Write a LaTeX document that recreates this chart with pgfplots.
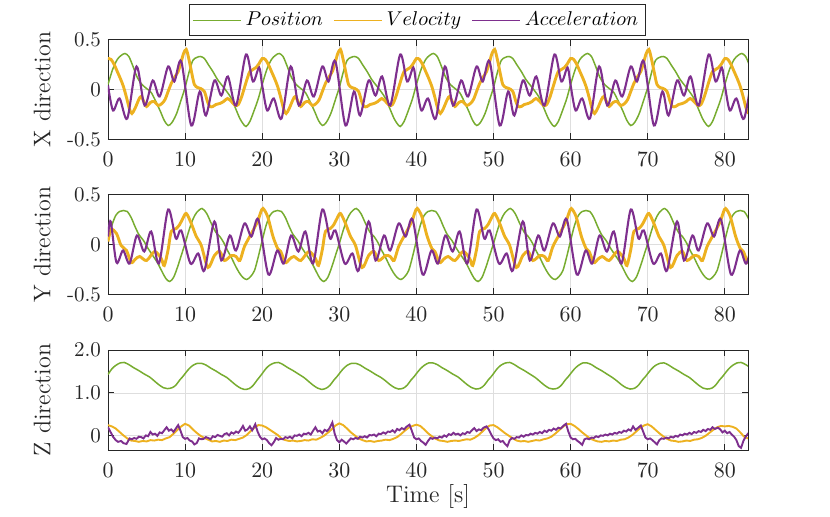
\documentclass[border=0pt]{standalone}
\usepackage{pgfplots}
\pgfplotsset{compat=1.18}
\definecolor{cpos}{RGB}{119,172,48}
\definecolor{cvel}{RGB}{237,177,32}
\definecolor{cacc}{RGB}{126,47,142}
\definecolor{axc}{RGB}{38,38,38}
\pgfplotsset{
 panel/.style={
  scale only axis, width=320pt, height=50pt,
  xmin=0, xmax=83,
  xtick={0,10,20,30,40,50,60,70,80},
  grid=major,
  major grid style={draw=black!13, line width=0.4pt},
  axis line style={draw=axc, line width=0.45pt},
  tick style={draw=axc, line width=0.45pt},
  tick align=inside, major tick length=3.2pt,
  ticklabel style={font=\fontsize{10.5}{12}\selectfont, text=axc},
  xticklabel style={yshift=-3pt},
  every axis y label/.style={at={(axis description cs:-0.103,0.5)}, rotate=90, anchor=center, font=\fontsize{12}{14}\selectfont, text=axc},
  clip=true,
 },
 ppos/.style={color=cpos, line width=0.75pt, smooth},
 pvel/.style={color=cvel, line width=1.45pt, smooth},
 pacc/.style={color=cacc, line width=1.05pt, smooth},
 zvel/.style={color=cvel, line width=0.95pt},
 zacc/.style={color=cacc, line width=0.95pt},
}
\begin{document}
\begin{tikzpicture}
\path (0,0) rectangle (415pt,258.5pt);
% ---------------- X direction ----------------
\begin{axis}[panel, at={(54pt,188.75pt)}, anchor=south west,
  ymin=-0.5, ymax=0.5, ytick={-0.5,0,0.5}, yticklabels={-0.5,0,0.5},
  ylabel={X direction},
  legend columns=3,
  legend style={at={(axis description cs:0.483,1)}, anchor=south, yshift=1.6pt,
    draw=axc, line width=0.45pt, fill=white, inner sep=1.5pt,
    font=\fontsize{10}{12}\selectfont,
    /tikz/every even column/.append style={column sep=3pt}},
  legend image code/.code={\draw[#1,line width=0.8pt] (0pt,0pt) -- (24pt,0pt);},
]
\addplot[ppos] coordinates {
(0,0.05)(0.6,0.20)(1.2,0.30)(1.7,0.34)(2.2,0.36)(2.7,0.33)(3.2,0.24)(3.8,0.12)(4.4,0.05)(5.0,0.01)(5.6,-0.03)(6.2,-0.12)(6.8,-0.22)(7.3,-0.31)(7.8,-0.36)(8.3,-0.33)(8.9,-0.24)(9.5,-0.10)(10.0,0.02)(10.5,0.17)(11.0,0.29)(11.5,0.32)(12.0,0.33)(12.5,0.31)(13.0,0.25)(13.6,0.18)(14.2,0.10)(14.8,0.04)(15.4,-0.02)(16.0,-0.09)(16.6,-0.20)(17.1,-0.29)(17.5,-0.34)(17.9,-0.37)(18.4,-0.32)(19.0,-0.20)(19.5,-0.09)
(20,0.05)(20.6,0.20)(21.2,0.30)(21.7,0.34)(22.2,0.36)(22.7,0.33)(23.2,0.24)(23.8,0.12)(24.4,0.05)(25.0,0.01)(25.6,-0.03)(26.2,-0.12)(26.8,-0.22)(27.3,-0.31)(27.8,-0.36)(28.3,-0.33)(28.9,-0.24)(29.5,-0.10)(30.0,0.02)(30.5,0.17)(31.0,0.29)(31.5,0.32)(32.0,0.33)(32.5,0.31)(33.0,0.25)(33.6,0.18)(34.2,0.10)(34.8,0.04)(35.4,-0.02)(36.0,-0.09)(36.6,-0.20)(37.1,-0.29)(37.5,-0.34)(37.9,-0.37)(38.4,-0.32)(39.0,-0.20)(39.5,-0.09)
(40,0.05)(40.6,0.20)(41.2,0.30)(41.7,0.34)(42.2,0.36)(42.7,0.33)(43.2,0.24)(43.8,0.12)(44.4,0.05)(45.0,0.01)(45.6,-0.03)(46.2,-0.12)(46.8,-0.22)(47.3,-0.31)(47.8,-0.36)(48.3,-0.33)(48.9,-0.24)(49.5,-0.10)(50.0,0.02)(50.5,0.17)(51.0,0.29)(51.5,0.32)(52.0,0.33)(52.5,0.31)(53.0,0.25)(53.6,0.18)(54.2,0.10)(54.8,0.04)(55.4,-0.02)(56.0,-0.09)(56.6,-0.20)(57.1,-0.29)(57.5,-0.34)(57.9,-0.37)(58.4,-0.32)(59.0,-0.20)(59.5,-0.09)
(60,0.05)(60.6,0.20)(61.2,0.30)(61.7,0.34)(62.2,0.36)(62.7,0.33)(63.2,0.24)(63.8,0.12)(64.4,0.05)(65.0,0.01)(65.6,-0.03)(66.2,-0.12)(66.8,-0.22)(67.3,-0.31)(67.8,-0.36)(68.3,-0.33)(68.9,-0.24)(69.5,-0.10)(70.0,0.02)(70.5,0.17)(71.0,0.29)(71.5,0.32)(72.0,0.33)(72.5,0.31)(73.0,0.25)(73.6,0.18)(74.2,0.10)(74.8,0.04)(75.4,-0.02)(76.0,-0.09)(76.6,-0.20)(77.1,-0.29)(77.5,-0.34)(77.9,-0.37)(78.4,-0.32)(79.0,-0.20)(79.5,-0.09)
(80,0.05)(80.6,0.20)(81.2,0.30)(81.7,0.34)(82.2,0.36)(82.7,0.33)(83.2,0.24)
};
\addlegendentry{$Position$}
\addplot[pvel] coordinates {
(0,0.31)(0.4,0.30)(0.8,0.25)(1.2,0.18)(1.6,0.11)(2.0,0.03)(2.4,-0.08)(2.8,-0.20)(3.1,-0.24)(3.5,-0.19)(4.0,-0.10)(4.3,-0.07)(4.7,-0.13)(5.0,-0.17)(5.5,-0.13)(6.0,-0.12)(6.5,-0.16)(7.0,-0.14)(7.4,-0.10)(7.8,-0.02)(8.2,0.06)(8.7,0.13)(9.1,0.18)(9.5,0.28)(9.8,0.36)(10.15,0.40)(10.5,0.30)(10.9,0.15)(11.2,0.05)(11.6,0.02)(12.0,0.01)(12.5,-0.02)(12.9,-0.12)(13.2,-0.17)(13.6,-0.17)(14.0,-0.15)(14.5,-0.14)(15.0,-0.12)(15.5,-0.09)(16.0,-0.12)(16.5,-0.16)(16.9,-0.15)(17.3,-0.08)(17.7,0.02)(18.1,0.12)(18.4,0.18)(18.8,0.20)(19.2,0.22)(19.6,0.26)
(20,0.31)(20.4,0.30)(20.8,0.25)(21.2,0.18)(21.6,0.11)(22.0,0.03)(22.4,-0.08)(22.8,-0.20)(23.1,-0.24)(23.5,-0.19)(24.0,-0.10)(24.3,-0.07)(24.7,-0.13)(25.0,-0.17)(25.5,-0.13)(26.0,-0.12)(26.5,-0.16)(27.0,-0.14)(27.4,-0.10)(27.8,-0.02)(28.2,0.06)(28.7,0.13)(29.1,0.18)(29.5,0.28)(29.8,0.36)(30.15,0.40)(30.5,0.30)(30.9,0.15)(31.2,0.05)(31.6,0.02)(32.0,0.01)(32.5,-0.02)(32.9,-0.12)(33.2,-0.17)(33.6,-0.17)(34.0,-0.15)(34.5,-0.14)(35.0,-0.12)(35.5,-0.09)(36.0,-0.12)(36.5,-0.16)(36.9,-0.15)(37.3,-0.08)(37.7,0.02)(38.1,0.12)(38.4,0.18)(38.8,0.20)(39.2,0.22)(39.6,0.26)
(40,0.31)(40.4,0.30)(40.8,0.25)(41.2,0.18)(41.6,0.11)(42.0,0.03)(42.4,-0.08)(42.8,-0.20)(43.1,-0.24)(43.5,-0.19)(44.0,-0.10)(44.3,-0.07)(44.7,-0.13)(45.0,-0.17)(45.5,-0.13)(46.0,-0.12)(46.5,-0.16)(47.0,-0.14)(47.4,-0.10)(47.8,-0.02)(48.2,0.06)(48.7,0.13)(49.1,0.18)(49.5,0.28)(49.8,0.36)(50.15,0.40)(50.5,0.30)(50.9,0.15)(51.2,0.05)(51.6,0.02)(52.0,0.01)(52.5,-0.02)(52.9,-0.12)(53.2,-0.17)(53.6,-0.17)(54.0,-0.15)(54.5,-0.14)(55.0,-0.12)(55.5,-0.09)(56.0,-0.12)(56.5,-0.16)(56.9,-0.15)(57.3,-0.08)(57.7,0.02)(58.1,0.12)(58.4,0.18)(58.8,0.20)(59.2,0.22)(59.6,0.26)
(60,0.31)(60.4,0.30)(60.8,0.25)(61.2,0.18)(61.6,0.11)(62.0,0.03)(62.4,-0.08)(62.8,-0.20)(63.1,-0.24)(63.5,-0.19)(64.0,-0.10)(64.3,-0.07)(64.7,-0.13)(65.0,-0.17)(65.5,-0.13)(66.0,-0.12)(66.5,-0.16)(67.0,-0.14)(67.4,-0.10)(67.8,-0.02)(68.2,0.06)(68.7,0.13)(69.1,0.18)(69.5,0.28)(69.8,0.36)(70.15,0.40)(70.5,0.30)(70.9,0.15)(71.2,0.05)(71.6,0.02)(72.0,0.01)(72.5,-0.02)(72.9,-0.12)(73.2,-0.17)(73.6,-0.17)(74.0,-0.15)(74.5,-0.14)(75.0,-0.12)(75.5,-0.09)(76.0,-0.12)(76.5,-0.16)(76.9,-0.15)(77.3,-0.08)(77.7,0.02)(78.1,0.12)(78.4,0.18)(78.8,0.20)(79.2,0.22)(79.6,0.26)
(80,0.31)(80.4,0.30)(80.8,0.25)(81.2,0.18)(81.6,0.11)(82.0,0.03)(82.4,-0.08)(82.8,-0.20)(83.1,-0.24)
};
\addlegendentry{$Velocity$}
\addplot[pacc] coordinates {
(0,0.04)(0.65,-0.21)(1.5,-0.09)(2.5,-0.29)(3.7,0.23)(4.75,-0.16)(5.8,0.09)(6.7,-0.07)(7.8,0.23)(8.6,0.08)(9.5,0.28)(10.8,-0.36)(11.9,-0.02)(12.7,-0.26)(13.8,0.09)(14.7,-0.06)(15.55,0.13)(16.6,-0.16)(17.9,0.35)(18.8,0.08)(19.6,0.22)
(20,0.04)(20.65,-0.21)(21.5,-0.09)(22.5,-0.29)(23.7,0.23)(24.75,-0.16)(25.8,0.09)(26.7,-0.07)(27.8,0.23)(28.6,0.08)(29.5,0.28)(30.8,-0.36)(31.9,-0.02)(32.7,-0.26)(33.8,0.09)(34.7,-0.06)(35.55,0.13)(36.6,-0.16)(37.9,0.35)(38.8,0.08)(39.6,0.22)
(40,0.04)(40.65,-0.21)(41.5,-0.09)(42.5,-0.29)(43.7,0.23)(44.75,-0.16)(45.8,0.09)(46.7,-0.07)(47.8,0.23)(48.6,0.08)(49.5,0.28)(50.8,-0.36)(51.9,-0.02)(52.7,-0.26)(53.8,0.09)(54.7,-0.06)(55.55,0.13)(56.6,-0.16)(57.9,0.35)(58.8,0.08)(59.6,0.22)
(60,0.04)(60.65,-0.21)(61.5,-0.09)(62.5,-0.29)(63.7,0.23)(64.75,-0.16)(65.8,0.09)(66.7,-0.07)(67.8,0.23)(68.6,0.08)(69.5,0.28)(70.8,-0.36)(71.9,-0.02)(72.7,-0.26)(73.8,0.09)(74.7,-0.06)(75.55,0.13)(76.6,-0.16)(77.9,0.35)(78.8,0.08)(79.6,0.22)
(80,0.04)(80.65,-0.21)(81.5,-0.09)(82.5,-0.29)(83.7,0.23)
};
\addlegendentry{$Acceleration$}
\end{axis}
% ---------------- Y direction ----------------
\begin{axis}[panel, at={(54pt,111.25pt)}, anchor=south west,
  ymin=-0.5, ymax=0.5, ytick={-0.5,0,0.5}, yticklabels={-0.5,0,0.5},
  ylabel={Y direction}]
\addplot[ppos] coordinates {
(0,0.04)(0.5,0.19)(1.0,0.29)(1.5,0.33)(2.0,0.34)(2.5,0.33)(3.0,0.27)(3.5,0.18)(4.0,0.10)(4.6,0.04)(5.2,-0.04)(5.8,-0.11)(6.4,-0.18)(7.0,-0.27)(7.5,-0.34)(8.0,-0.37)(8.5,-0.33)(9.0,-0.23)(9.5,-0.11)(10.0,0.01)(10.5,0.14)(11.0,0.25)(11.5,0.32)(12.2,0.36)(12.8,0.31)(13.4,0.21)(14.0,0.12)(14.5,0.08)(15.0,0.02)(15.5,-0.06)(16.0,-0.13)(16.5,-0.21)(17.0,-0.28)(17.5,-0.33)(18.0,-0.35)(18.5,-0.32)(19.0,-0.26)(19.5,-0.12)
(20,0.04)(20.5,0.19)(21.0,0.29)(21.5,0.33)(22.0,0.34)(22.5,0.33)(23.0,0.27)(23.5,0.18)(24.0,0.10)(24.6,0.04)(25.2,-0.04)(25.8,-0.11)(26.4,-0.18)(27.0,-0.27)(27.5,-0.34)(28.0,-0.37)(28.5,-0.33)(29.0,-0.23)(29.5,-0.11)(30.0,0.01)(30.5,0.14)(31.0,0.25)(31.5,0.32)(32.2,0.36)(32.8,0.31)(33.4,0.21)(34.0,0.12)(34.5,0.08)(35.0,0.02)(35.5,-0.06)(36.0,-0.13)(36.5,-0.21)(37.0,-0.28)(37.5,-0.33)(38.0,-0.35)(38.5,-0.32)(39.0,-0.26)(39.5,-0.12)
(40,0.04)(40.5,0.19)(41.0,0.29)(41.5,0.33)(42.0,0.34)(42.5,0.33)(43.0,0.27)(43.5,0.18)(44.0,0.10)(44.6,0.04)(45.2,-0.04)(45.8,-0.11)(46.4,-0.18)(47.0,-0.27)(47.5,-0.34)(48.0,-0.37)(48.5,-0.33)(49.0,-0.23)(49.5,-0.11)(50.0,0.01)(50.5,0.14)(51.0,0.25)(51.5,0.32)(52.2,0.36)(52.8,0.31)(53.4,0.21)(54.0,0.12)(54.5,0.08)(55.0,0.02)(55.5,-0.06)(56.0,-0.13)(56.5,-0.21)(57.0,-0.28)(57.5,-0.33)(58.0,-0.35)(58.5,-0.32)(59.0,-0.26)(59.5,-0.12)
(60,0.04)(60.5,0.19)(61.0,0.29)(61.5,0.33)(62.0,0.34)(62.5,0.33)(63.0,0.27)(63.5,0.18)(64.0,0.10)(64.6,0.04)(65.2,-0.04)(65.8,-0.11)(66.4,-0.18)(67.0,-0.27)(67.5,-0.34)(68.0,-0.37)(68.5,-0.33)(69.0,-0.23)(69.5,-0.11)(70.0,0.01)(70.5,0.14)(71.0,0.25)(71.5,0.32)(72.2,0.36)(72.8,0.31)(73.4,0.21)(74.0,0.12)(74.5,0.08)(75.0,0.02)(75.5,-0.06)(76.0,-0.13)(76.5,-0.21)(77.0,-0.28)(77.5,-0.33)(78.0,-0.35)(78.5,-0.32)(79.0,-0.26)(79.5,-0.12)
(80,0.04)(80.5,0.19)(81.0,0.29)(81.5,0.33)(82.0,0.34)(82.5,0.33)(83.0,0.27)(83.5,0.18)
};
\addplot[pvel] coordinates {
(0,0.03)(0.4,0.15)(1.1,0.11)(1.7,-0.01)(2.4,-0.06)(3.0,-0.18)(3.5,-0.15)(4.1,-0.12)(5.0,-0.16)(6.05,-0.07)(6.9,-0.14)(7.3,-0.21)(7.8,-0.05)(8.2,0.13)(8.85,0.16)(9.3,0.20)(9.7,0.26)(10.15,0.31)(10.8,0.21)(11.45,0.08)(12.1,-0.01)(12.96,-0.23)(13.8,-0.11)(14.5,-0.07)(15.1,-0.16)(16.0,-0.11)(16.6,-0.12)(17.1,-0.16)(17.7,-0.02)(18.6,0.11)(19.4,0.23)(19.8,0.32)
(20.1,0.36)(20.7,0.28)(21.4,0.08)(22.0,-0.04)(22.4,-0.07)(23.0,-0.18)(23.5,-0.15)(24.1,-0.12)(25.0,-0.16)(26.05,-0.07)(26.9,-0.14)(27.3,-0.21)(27.8,-0.05)(28.2,0.13)(28.85,0.16)(29.3,0.20)(29.7,0.26)(30.15,0.31)(30.8,0.21)(31.45,0.08)(32.1,-0.01)(32.96,-0.23)(33.8,-0.11)(34.5,-0.07)(35.1,-0.16)(36.0,-0.11)(36.6,-0.12)(37.1,-0.16)(37.7,-0.02)(38.6,0.11)(39.4,0.23)(39.8,0.32)
(40.1,0.36)(40.7,0.28)(41.4,0.08)(42.0,-0.04)(42.4,-0.07)(43.0,-0.18)(43.5,-0.15)(44.1,-0.12)(45.0,-0.16)(46.05,-0.07)(46.9,-0.14)(47.3,-0.21)(47.8,-0.05)(48.2,0.13)(48.85,0.16)(49.3,0.20)(49.7,0.26)(50.15,0.31)(50.8,0.21)(51.45,0.08)(52.1,-0.01)(52.96,-0.23)(53.8,-0.11)(54.5,-0.07)(55.1,-0.16)(56.0,-0.11)(56.6,-0.12)(57.1,-0.16)(57.7,-0.02)(58.6,0.11)(59.4,0.23)(59.8,0.32)
(60.1,0.36)(60.7,0.28)(61.4,0.08)(62.0,-0.04)(62.4,-0.07)(63.0,-0.18)(63.5,-0.15)(64.1,-0.12)(65.0,-0.16)(66.05,-0.07)(66.9,-0.14)(67.3,-0.21)(67.8,-0.05)(68.2,0.13)(68.85,0.16)(69.3,0.20)(69.7,0.26)(70.15,0.31)(70.8,0.21)(71.45,0.08)(72.1,-0.01)(72.96,-0.23)(73.8,-0.11)(74.5,-0.07)(75.1,-0.16)(76.0,-0.11)(76.6,-0.12)(77.1,-0.16)(77.7,-0.02)(78.6,0.11)(79.4,0.23)(79.8,0.32)
(80.1,0.36)(80.7,0.28)(81.4,0.08)(82.0,-0.04)(82.4,-0.07)(83.0,-0.18)(83.5,-0.15)
};
\addplot[pacc] coordinates {
(0,0.08)(0.35,0.23)(1.1,-0.18)(1.95,-0.06)(2.8,-0.19)(3.75,0.09)(4.7,-0.07)(5.6,0.13)(6.6,-0.19)(7.8,0.35)(8.8,0.06)(9.5,0.14)(10.7,-0.19)(11.7,-0.09)(12.5,-0.26)(13.8,0.23)(14.7,-0.16)(15.8,0.09)(16.6,-0.06)(17.7,0.21)(18.6,0.08)(19.5,0.25)
(20.8,-0.30)(21.95,-0.06)(22.8,-0.19)(23.75,0.09)(24.7,-0.07)(25.6,0.13)(26.6,-0.19)(27.8,0.35)(28.8,0.06)(29.5,0.14)(30.7,-0.19)(31.7,-0.09)(32.5,-0.26)(33.8,0.23)(34.7,-0.16)(35.8,0.09)(36.6,-0.06)(37.7,0.21)(38.6,0.08)(39.5,0.25)
(40.8,-0.30)(41.95,-0.06)(42.8,-0.19)(43.75,0.09)(44.7,-0.07)(45.6,0.13)(46.6,-0.19)(47.8,0.35)(48.8,0.06)(49.5,0.14)(50.7,-0.19)(51.7,-0.09)(52.5,-0.26)(53.8,0.23)(54.7,-0.16)(55.8,0.09)(56.6,-0.06)(57.7,0.21)(58.6,0.08)(59.5,0.25)
(60.8,-0.30)(61.95,-0.06)(62.8,-0.19)(63.75,0.09)(64.7,-0.07)(65.6,0.13)(66.6,-0.19)(67.8,0.35)(68.8,0.06)(69.5,0.14)(70.7,-0.19)(71.7,-0.09)(72.5,-0.26)(73.8,0.23)(74.7,-0.16)(75.8,0.09)(76.6,-0.06)(77.7,0.21)(78.6,0.08)(79.5,0.25)
(80.8,-0.30)(81.95,-0.06)(82.8,-0.19)(83.75,0.09)
};
\end{axis}
% ---------------- Z direction ----------------
\begin{axis}[panel, at={(54pt,33.5pt)}, anchor=south west,
  ymin=-0.33, ymax=2, ytick={0,1,2}, yticklabels={0,1.0,2.0},
  ylabel={Z direction},
  xlabel={Time [s]},
  every axis x label/.style={at={(axis description cs:0.5,0)}, anchor=center, yshift=-23.5pt, font=\fontsize{12}{14}\selectfont, text=axc}]
\addplot[ppos] coordinates {
(0,1.43)(0.5,1.56)(1.0,1.64)(1.6,1.70)(2.1,1.71)(2.7,1.66)(3.3,1.59)(4.0,1.52)(4.7,1.44)(5.4,1.37)(6.0,1.28)(6.6,1.19)(7.2,1.12)(7.7,1.10)(8.3,1.12)(8.8,1.18)(9.3,1.30)(9.7,1.38)
(10,1.45)(10.5,1.56)(11.0,1.64)(11.6,1.69)(12.1,1.69)(12.7,1.65)(13.3,1.58)(14.0,1.51)(14.7,1.43)(15.4,1.36)(16.0,1.27)(16.6,1.18)(17.2,1.11)(17.7,1.08)(18.3,1.10)(18.8,1.17)(19.3,1.29)(19.7,1.38)
(20,1.45)(20.5,1.57)(21.0,1.65)(21.6,1.70)(22.1,1.71)(22.7,1.66)(23.3,1.59)(24.0,1.52)(24.7,1.44)(25.4,1.36)(26.0,1.27)(26.6,1.18)(27.2,1.11)(27.7,1.08)(28.3,1.11)(28.8,1.18)(29.3,1.30)(29.7,1.38)
(30,1.45)(30.5,1.56)(31.0,1.64)(31.6,1.69)(32.1,1.69)(32.7,1.65)(33.3,1.58)(34.0,1.51)(34.7,1.43)(35.4,1.36)(36.0,1.28)(36.6,1.19)(37.2,1.12)(37.7,1.09)(38.3,1.11)(38.8,1.18)(39.3,1.30)(39.7,1.38)
(40,1.45)(40.5,1.56)(41.0,1.64)(41.6,1.70)(42.1,1.70)(42.7,1.66)(43.3,1.59)(44.0,1.52)(44.7,1.44)(45.4,1.37)(46.0,1.28)(46.6,1.19)(47.2,1.12)(47.7,1.09)(48.3,1.11)(48.8,1.18)(49.3,1.30)(49.7,1.38)
(50,1.45)(50.5,1.57)(51.0,1.65)(51.6,1.70)(52.1,1.71)(52.7,1.66)(53.3,1.59)(54.0,1.52)(54.7,1.44)(55.4,1.36)(56.0,1.27)(56.6,1.18)(57.2,1.11)(57.7,1.09)(58.3,1.11)(58.8,1.18)(59.3,1.30)(59.7,1.38)
(60,1.45)(60.5,1.56)(61.0,1.64)(61.6,1.70)(62.1,1.70)(62.7,1.66)(63.3,1.59)(64.0,1.52)(64.7,1.44)(65.4,1.36)(66.0,1.28)(66.6,1.19)(67.2,1.12)(67.7,1.09)(68.3,1.11)(68.8,1.18)(69.3,1.30)(69.7,1.38)
(70,1.45)(70.5,1.56)(71.0,1.64)(71.6,1.69)(72.1,1.70)(72.7,1.65)(73.3,1.58)(74.0,1.51)(74.7,1.43)(75.4,1.36)(76.0,1.27)(76.6,1.18)(77.2,1.11)(77.7,1.09)(78.3,1.11)(78.8,1.18)(79.3,1.30)(79.7,1.38)
(80,1.45)(80.5,1.56)(81.0,1.64)(81.6,1.70)(82.1,1.71)(82.7,1.66)(83.3,1.59)
};
\addplot[zvel] coordinates {
(0,0.25)(0.5,0.22)(1,0.17)(1.5,0.09)(2,0.01)(2.5,-0.06)(3,-0.11)(3.5,-0.12)(4,-0.14)(4.5,-0.12)(5,-0.13)(5.5,-0.10)(6,-0.11)(6.5,-0.09)(7,-0.10)(7.5,-0.06)(8,-0.03)(8.5,0.05)(9,0.14)(9.5,0.22)
(10,0.28)(10.5,0.24)(11,0.15)(11.5,0.07)(12,0.00)(12.5,-0.05)(13,-0.09)(13.5,-0.13)(14,-0.12)(14.5,-0.14)(15,-0.11)(15.5,-0.12)(16,-0.09)(16.5,-0.10)(17,-0.07)(17.5,-0.04)(18,0.02)(18.5,0.11)(19,0.19)(19.5,0.25)
(20,0.24)(20.5,0.20)(21,0.14)(21.5,0.08)(22,0.02)(22.5,-0.06)(23,-0.10)(23.5,-0.12)(24,-0.11)(24.5,-0.13)(25,-0.12)(25.5,-0.10)(26,-0.11)(26.5,-0.08)(27,-0.09)(27.5,-0.05)(28,0.00)(28.5,0.07)(29,0.15)(29.5,0.24)
(30,0.29)(30.5,0.25)(31,0.17)(31.5,0.08)(32,0.01)(32.5,-0.06)(33,-0.10)(33.5,-0.13)(34,-0.12)(34.5,-0.14)(35,-0.12)(35.5,-0.11)(36,-0.09)(36.5,-0.10)(37,-0.07)(37.5,-0.03)(38,0.04)(38.5,0.12)(39,0.19)(39.5,0.23)
(40,0.26)(40.5,0.23)(41,0.15)(41.5,0.06)(42,-0.01)(42.5,-0.07)(43,-0.11)(43.5,-0.12)(44,-0.14)(44.5,-0.12)(45,-0.11)(45.5,-0.12)(46,-0.10)(46.5,-0.08)(47,-0.09)(47.5,-0.05)(48,0.01)(48.5,0.09)(49,0.18)(49.5,0.24)
(50,0.25)(50.5,0.20)(51,0.13)(51.5,0.06)(52,0.00)(52.5,-0.06)(53,-0.11)(53.5,-0.13)(54,-0.12)(54.5,-0.14)(55,-0.12)(55.5,-0.10)(56,-0.11)(56.5,-0.08)(57,-0.06)(57.5,-0.02)(58,0.05)(58.5,0.13)(59,0.21)(59.5,0.27)
(60,0.28)(60.5,0.23)(61,0.16)(61.5,0.08)(62,0.01)(62.5,-0.06)(63,-0.10)(63.5,-0.13)(64,-0.14)(64.5,-0.12)(65,-0.13)(65.5,-0.11)(66,-0.12)(66.5,-0.09)(67,-0.08)(67.5,-0.04)(68,0.02)(68.5,0.10)(69,0.18)(69.5,0.24)
(70,0.27)(70.5,0.22)(71,0.14)(71.5,0.06)(72,-0.01)(72.5,-0.07)(73,-0.11)(73.5,-0.12)(74,-0.14)(74.5,-0.13)(75,-0.11)(75.5,-0.12)(76,-0.09)(76.5,-0.08)(77,-0.05)(77.5,0.00)(78,0.07)(78.5,0.14)(79,0.20)(79.5,0.23)
(80,0.22)(80.5,0.23)(81,0.21)(81.5,0.17)(82,0.08)(82.5,-0.02)(83,-0.06)
};
\addplot[zacc] coordinates {
(0,0.20)(0.3,0.10)(0.65,-0.02)(1.0,-0.10)(1.3,-0.14)(1.7,-0.12)(2.0,-0.17)(2.4,-0.19)(2.8,-0.06)(3.1,-0.08)(3.4,-0.05)(3.7,-0.07)(4.0,-0.02)(4.3,-0.03)(4.6,-0.06)(4.9,0.01)(5.2,-0.01)(5.5,0.09)(5.8,0.03)(6.1,0.05)(6.4,0.00)(6.7,0.08)(7.0,0.06)(7.3,0.13)(7.6,0.20)(7.9,0.12)(8.2,0.15)(8.5,0.09)(8.8,0.17)
(9.1,0.25)(9.4,0.12)(9.7,-0.03)(10.0,-0.07)(10.3,-0.05)(10.6,-0.11)(10.9,-0.13)(11.2,-0.20)(11.5,-0.17)(11.8,-0.06)(12.1,-0.08)(12.4,-0.07)(12.7,-0.03)(13.0,-0.05)(13.3,-0.08)(13.6,-0.01)(13.9,-0.03)(14.2,0.02)(14.5,0.00)(14.8,-0.02)(15.1,0.04)(15.4,0.06)(15.7,0.01)(16.0,0.08)(16.3,0.05)(16.6,0.10)(16.9,0.07)(17.2,0.14)(17.5,0.23)(17.8,0.12)(18.1,0.15)(18.4,0.22)(18.7,0.13)
(19.1,0.27)(19.4,0.10)(19.7,-0.02)(20.0,-0.08)(20.3,-0.06)(20.6,-0.10)(20.9,-0.17)(21.2,-0.22)(21.5,-0.15)(21.8,-0.05)(22.1,-0.09)(22.4,-0.07)(22.7,-0.08)(23.0,-0.03)(23.3,-0.05)(23.6,-0.02)(23.9,-0.06)(24.2,0.01)(24.5,0.00)(24.8,0.03)(25.1,-0.01)(25.4,0.05)(25.7,0.04)(26.0,0.07)(26.3,0.03)(26.6,0.12)(26.9,0.20)(27.2,0.10)(27.5,0.12)(27.8,0.06)(28.1,0.14)(28.4,0.11)(28.7,0.17)
(29.1,0.31)(29.4,0.05)(29.7,-0.10)(30.0,-0.15)(30.3,-0.09)(30.6,-0.13)(30.9,-0.18)(31.2,-0.12)(31.5,-0.06)(31.8,-0.08)(32.1,-0.05)(32.4,-0.07)(32.7,-0.02)(33.0,-0.04)(33.3,-0.01)(33.6,-0.04)(33.9,0.02)(34.2,0.01)(34.5,0.03)(34.8,-0.01)(35.1,0.05)(35.4,0.04)(35.7,0.08)(36.0,0.05)(36.3,0.10)(36.6,0.09)(36.9,0.13)(37.2,0.08)(37.5,0.16)(37.8,0.13)(38.1,0.18)(38.4,0.15)(38.7,0.21)
(39.1,0.26)(39.4,0.12)(39.7,-0.04)(40.0,-0.08)(40.3,-0.06)(40.6,-0.12)(40.9,-0.16)(41.2,-0.21)(41.5,-0.12)(41.8,-0.05)(42.1,-0.07)(42.4,-0.04)(42.7,-0.06)(43.0,-0.02)(43.3,-0.04)(43.6,0.01)(43.9,-0.02)(44.2,0.04)(44.5,0.02)(44.8,0.07)(45.1,0.03)(45.4,0.05)(45.7,0.01)(46.0,0.06)(46.3,0.04)(46.6,0.09)(46.9,0.07)(47.2,0.13)(47.5,0.18)(47.8,0.11)(48.1,0.15)(48.4,0.13)(48.7,0.19)
(49.1,0.22)(49.4,0.14)(49.7,0.03)(50.0,-0.06)(50.3,-0.10)(50.6,-0.08)(50.9,-0.14)(51.2,-0.12)(51.5,-0.19)(51.8,-0.24)(52.1,-0.10)(52.4,-0.05)(52.7,-0.07)(53.0,-0.03)(53.3,-0.04)(53.6,0.01)(53.9,-0.02)(54.2,0.02)(54.5,0.01)(54.8,0.05)(55.1,0.03)(55.4,0.07)(55.7,0.05)(56.0,0.09)(56.3,0.06)(56.6,0.12)(56.9,0.09)(57.2,0.14)(57.5,0.12)(57.8,0.17)(58.1,0.14)(58.4,0.19)(58.7,0.17)(59.1,0.24)
(59.4,0.28)(59.7,0.10)(60.0,-0.04)(60.3,-0.08)(60.6,-0.07)(60.9,-0.12)(61.2,-0.16)(61.5,-0.21)(61.8,-0.08)(62.1,-0.06)(62.4,-0.08)(62.7,-0.04)(63.0,-0.05)(63.3,-0.01)(63.6,-0.03)(63.9,0.01)(64.2,0.00)(64.5,0.03)(64.8,0.01)(65.1,0.05)(65.4,0.03)(65.7,0.07)(66.0,0.05)(66.3,0.09)(66.6,0.07)(66.9,0.12)(67.2,0.10)(67.5,0.15)(67.8,0.12)(68.1,0.22)(68.4,0.14)(68.7,0.18)
(69.1,0.24)(69.4,0.10)(69.7,-0.04)(70.0,-0.08)(70.3,-0.06)(70.6,-0.10)(70.9,-0.15)(71.2,-0.20)(71.5,-0.10)(71.8,-0.06)(72.1,-0.07)(72.4,-0.04)(72.7,-0.06)(73.0,-0.02)(73.3,-0.04)(73.6,0.00)(73.9,-0.02)(74.2,0.03)(74.5,0.01)(74.8,0.05)(75.1,0.03)(75.4,0.07)(75.7,0.04)(76.0,0.09)(76.3,0.07)(76.6,0.11)(76.9,0.09)(77.2,0.14)(77.5,0.11)(77.8,0.16)(78.1,0.14)(78.4,0.20)(78.7,0.16)
(79.1,0.19)(79.4,0.15)(79.7,0.08)(80.0,0.12)(80.3,0.06)(80.6,0.09)(80.9,0.03)(81.2,-0.02)(81.5,-0.10)(81.8,-0.24)(82.1,-0.28)(82.4,-0.12)(82.7,-0.02)(83.0,0.05)(83.3,0.02)
};
\end{axis}
\end{tikzpicture}
\end{document}
